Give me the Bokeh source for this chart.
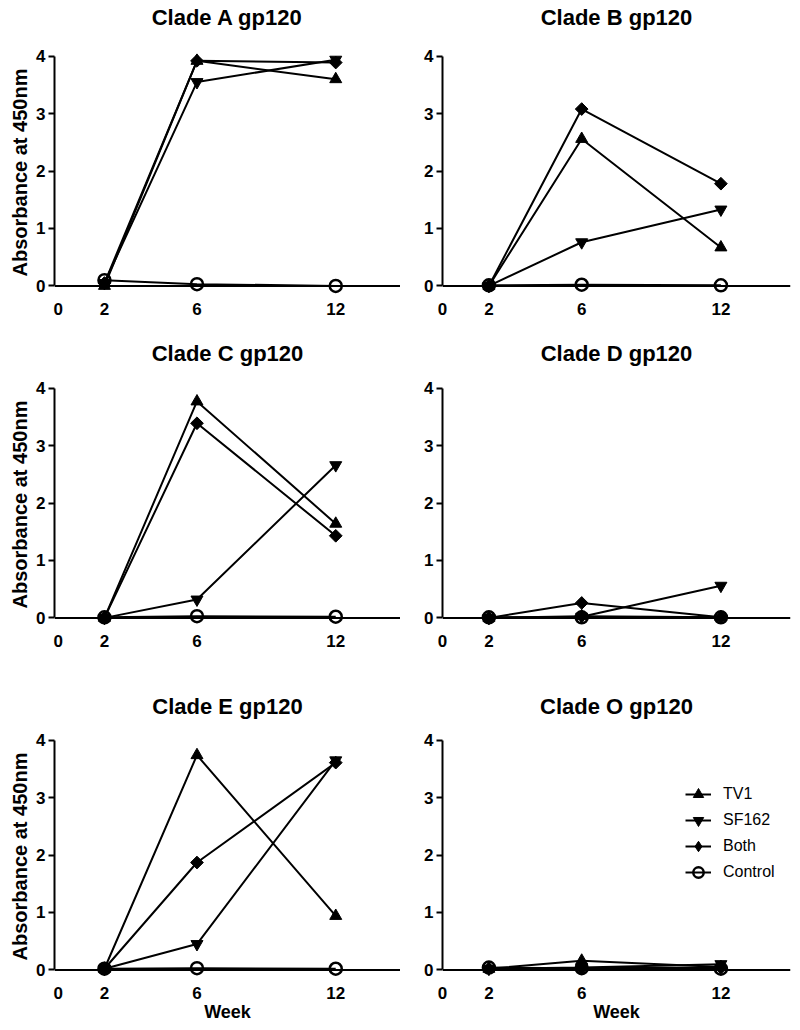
import math
from bokeh.plotting import figure
from bokeh.layouts import column, row
from bokeh.models import Range1d, FixedTicker, Span, Legend, LegendItem, Title
from bokeh.embed import file_html
from bokeh.resources import INLINE

# ---------------- data ----------------
clades = ["A", "B", "C", "D", "E", "O"]
titles = ["Clade A gp120", "Clade B gp120", "Clade C gp120",
          "Clade D gp120", "Clade E gp120", "Clade O gp120"]
weeks = [2, 6, 12]
x_ticks = [0, 2, 6, 12]
y_ticks = [0, 1, 2, 3, 4]
series_names = ["TV1", "SF162", "Both", "Control"]

# one list per clade (A, B, C, D, E, O), values at weeks 2, 6, 12
tv1 = [[0.00, 3.92, 3.60], [0.00, 2.56, 0.67], [0.00, 3.77, 1.64],
       [0.00, 0.03, 0.01], [0.02, 3.74, 0.94], [0.02, 0.16, 0.05]]
sf162 = [[0.05, 3.55, 3.94], [0.00, 0.76, 1.33], [0.00, 0.32, 2.66],
         [0.00, 0.02, 0.56], [0.02, 0.45, 3.65], [0.02, 0.04, 0.10]]
both = [[0.05, 3.92, 3.89], [0.00, 3.08, 1.78], [0.00, 3.39, 1.43],
        [0.00, 0.26, 0.01], [0.02, 1.87, 3.61], [0.02, 0.03, 0.04]]
control = [[0.10, 0.03, 0.00], [0.01, 0.02, 0.01], [0.01, 0.03, 0.02],
           [0.01, 0.01, 0.01], [0.02, 0.03, 0.02], [0.04, 0.03, 0.02]]

FONT = "Liberation Sans"
TOP = [50, 50, 50]
BOTTOM = [38, 58, 50]
SPACER = [17, 13, 12]
NAN = float("nan")


def make_panel(i):
    col = i % 2
    r = i // 2
    p = figure(
        frame_width=346 if col == 0 else 348,
        frame_height=244,
        x_range=Range1d(-0.16, 14.8) if col == 0 else Range1d(0, 15),
        y_range=Range1d(-0.15, 4.1),
        min_border_left=54 if col == 0 else 42,
        min_border_right=0 if col == 0 else 2,
        min_border_top=TOP[r],
        min_border_bottom=BOTTOM[r],
        output_backend="svg",
        toolbar_location=None,
        title=titles[i],
    )
    p.grid.visible = False
    p.outline_line_color = None
    p.background_fill_color = "white"
    p.border_fill_color = "white"

    # small empty spacer between the frame and the title
    p.add_layout(Title(text=" ", text_font_size="2px", standoff=SPACER[r]), "above")

    p.title.text_font = FONT
    p.title.text_font_size = "22px"
    p.title.text_font_style = "bold"
    p.title.align = "center"
    p.title.standoff = 0
    p.title.text_color = "black"

    xa = p.xaxis[0]
    xa.ticker = FixedTicker(ticks=x_ticks)
    xa.axis_line_color = None
    xa.major_tick_line_color = None
    xa.minor_tick_line_color = None
    xa.major_label_text_font = FONT
    xa.major_label_text_font_size = "17px"
    xa.major_label_text_font_style = "bold"
    xa.major_label_text_color = "black"
    xa.major_label_standoff = 2
    if r == 2:
        xa.axis_label = "Week"
        xa.axis_label_text_font = FONT
        xa.axis_label_text_font_size = "18px"
        xa.axis_label_text_font_style = "bold"
        xa.axis_label_text_color = "black"
        xa.axis_label_standoff = 0

    ya = p.yaxis[0]
    ya.ticker = FixedTicker(ticks=y_ticks)
    ya.bounds = (0, 4)
    ya.axis_line_width = 2
    ya.axis_line_color = "black"
    ya.major_tick_line_width = 2
    ya.major_tick_line_color = "black"
    ya.major_tick_out = 6
    ya.major_tick_in = 0
    ya.minor_tick_line_color = None
    ya.major_label_text_font = FONT
    ya.major_label_text_font_size = "17px"
    ya.major_label_text_font_style = "bold"
    ya.major_label_text_color = "black"
    ya.major_label_standoff = 3
    if col == 0:
        ya.axis_label = "Absorbance at 450nm"
        ya.axis_label_text_font = FONT
        ya.axis_label_text_font_size = "20px"
        ya.axis_label_text_font_style = "bold"
        ya.axis_label_text_color = "black"
        ya.axis_label_standoff = 2

    p.add_layout(Span(location=0, dimension="width", line_color="black", line_width=2))

    data = [tv1[i], sf162[i], both[i], control[i]]
    line_rs = []
    for vals in data:
        line_rs.append(p.line(weeks, vals, line_color="black", line_width=2))

    mk = []
    mk.append(p.scatter(weeks, data[0], marker="triangle", size=12,
                        fill_color="black", line_color="black"))
    mk.append(p.scatter(weeks, data[1], marker="inverted_triangle", size=12,
                        fill_color="black", line_color="black"))
    mk.append(p.scatter(weeks, data[2], marker="square", size=9, angle=math.pi / 4,
                        fill_color="black", line_color="black"))
    mk.append(p.scatter(weeks, data[3], marker="circle", size=12,
                        fill_color=None, line_color="black", line_width=2.5))

    if i == 5:
        # legend-only diamond glyph (not drawn in the plot area)
        dia = p.scatter([NAN], [NAN], marker="diamond", size=14,
                        fill_color="black", line_color="black")
        leg_marks = [mk[0], mk[1], dia, mk[3]]
        items = [LegendItem(label=series_names[k], renderers=[line_rs[k], leg_marks[k]])
                 for k in range(4)]
        legend = Legend(items=items, location=(243, 93), padding=0, margin=0,
                        spacing=0, glyph_width=26, glyph_height=26, label_height=26,
                        label_standoff=12, label_text_font=FONT,
                        label_text_font_size="16px", label_text_color="black",
                        border_line_color=None, background_fill_alpha=0)
        p.add_layout(legend)
    return p


panels = [make_panel(i) for i in range(6)]
layout = column(row(panels[0], panels[1]), row(panels[2], panels[3]),
                row(panels[4], panels[5]))

open("out.html", "w").write(file_html(layout, INLINE))
